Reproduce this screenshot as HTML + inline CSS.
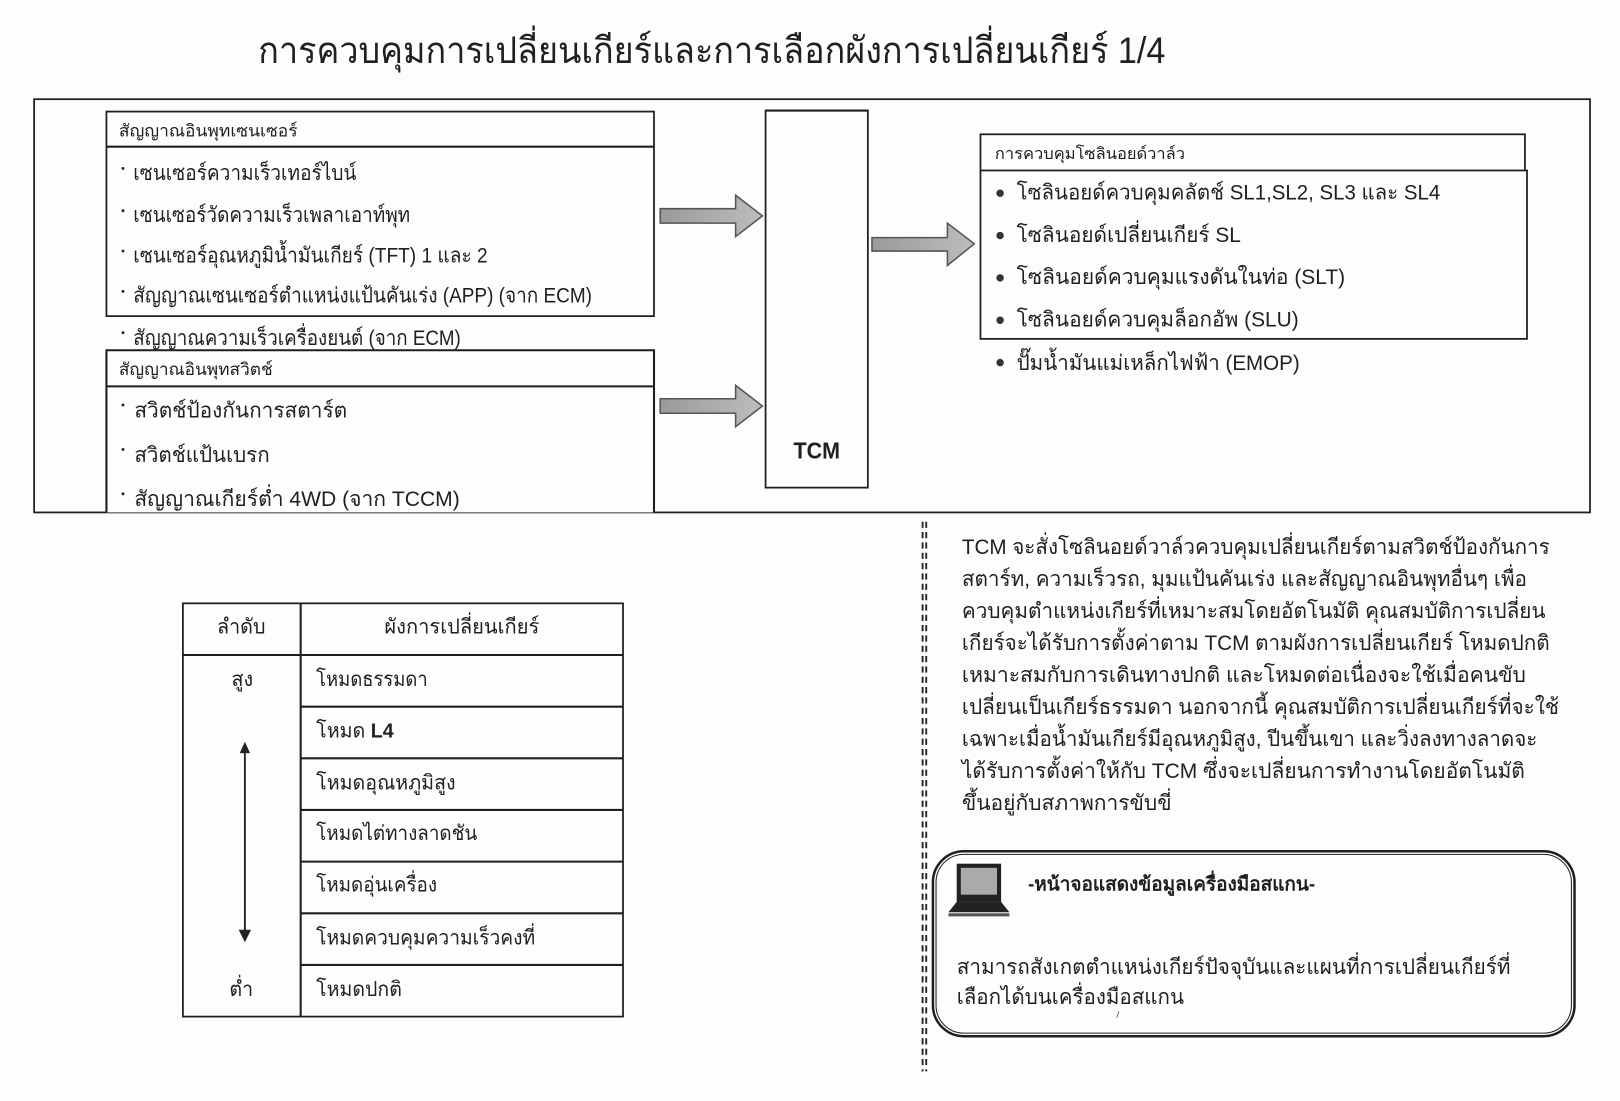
<!DOCTYPE html>
<html lang="th"><head><meta charset="utf-8"><title>การควบคุมการเปลี่ยนเกียร์</title>
<style>
html,body{margin:0;padding:0;background:#fdfdfc}
svg{display:block;width:1620px;height:1101px}
text{font-family:"Liberation Sans","Noto Sans CJK SC","WenQuanYi Zen Hei",sans-serif;fill:#202020}
.s{font-size:16.5px}.m{font-size:20.5px}.b{font-weight:bold}
.box{fill:#fdfdfc;stroke:#1e1e1e;stroke-width:1.7}
.ln{stroke:#1e1e1e;stroke-width:2;fill:none}
.ar{fill:url(#g);stroke:#555;stroke-width:1.5}
</style></head><body>
<svg viewBox="0 0 1568 1065.7" xmlns="http://www.w3.org/2000/svg">
<defs><linearGradient id="g" x1="0" y1="0" x2="1" y2="0"><stop offset="0" stop-color="#9a9a9a"/><stop offset="1" stop-color="#bdbdbd"/></linearGradient></defs>
<rect width="1568" height="1065.7" fill="#fdfdfc"/>
<text x="250" y="61" font-size="35.5" textLength="878" lengthAdjust="spacingAndGlyphs">การควบคุมการเปลี่ยนเกียร์และการเลือกผังการเปลี่ยนเกียร์ 1/4</text>

<rect x="33" y="96" width="1506" height="400" fill="#fdfdfc" stroke="#1e1e1e" stroke-width="1.7"/>

<!-- sensor input -->
<text class="m" x="129" y="334" textLength="317" lengthAdjust="spacingAndGlyphs">สัญญาณความเร็วเครื่องยนต์ (จาก ECM)</text>
<circle cx="119" cy="322" r="1.4" fill="#222"/>
<rect class="box" x="103" y="108" width="530" height="198"/>
<line class="ln" x1="103" y1="142" x2="633" y2="142"/>
<text class="s" x="115" y="132" textLength="173" lengthAdjust="spacingAndGlyphs">สัญญาณอินพุทเซนเซอร์</text>
<circle cx="119" cy="163" r="1.4" fill="#222"/><text class="m" x="129" y="174" textLength="216" lengthAdjust="spacingAndGlyphs">เซนเซอร์ความเร็วเทอร์ไบน์</text>
<circle cx="119" cy="204" r="1.4" fill="#222"/><text class="m" x="129" y="215" textLength="268" lengthAdjust="spacingAndGlyphs">เซนเซอร์วัดความเร็วเพลาเอาท์พุท</text>
<circle cx="119" cy="243" r="1.4" fill="#222"/><text class="m" x="129" y="254" textLength="343" lengthAdjust="spacingAndGlyphs">เซนเซอร์อุณหภูมิน้ำมันเกียร์ (TFT) 1 และ 2</text>
<circle cx="119" cy="282" r="1.4" fill="#222"/><text class="m" x="129" y="293" textLength="444" lengthAdjust="spacingAndGlyphs">สัญญาณเซนเซอร์ตำแหน่งแป้นคันเร่ง (APP) (จาก ECM)</text>

<!-- switch input -->
<rect x="103" y="339" width="530" height="157" fill="#fdfdfc"/>
<path class="ln" d="M103 496V339H633V496M103 374H633"/>
<text class="s" x="115" y="363" textLength="149" lengthAdjust="spacingAndGlyphs">สัญญาณอินพุทสวิตช์</text>
<circle cx="119" cy="392" r="1.4" fill="#222"/><text class="m" x="130" y="404" textLength="206" lengthAdjust="spacingAndGlyphs">สวิตช์ป้องกันการสตาร์ต</text>
<circle cx="119" cy="435" r="1.4" fill="#222"/><text class="m" x="130" y="447" textLength="131" lengthAdjust="spacingAndGlyphs">สวิตช์แป้นเบรก</text>
<circle cx="119" cy="478" r="1.4" fill="#222"/><text class="m" x="130" y="490" textLength="315" lengthAdjust="spacingAndGlyphs">สัญญาณเกียร์ต่ำ 4WD (จาก TCCM)</text>

<!-- arrows -->
<path class="ar" d="M639 202H712V189L738 209L712 229V216H639Z"/>
<path class="ar" d="M639 386H712V373L738 393L712 413V400H639Z"/>
<path class="ar" d="M844 230H917V216L943 236L917 257V243H844Z"/>

<!-- TCM -->
<rect class="box" x="741" y="107" width="99" height="365"/>
<line class="ln" x1="741" y1="107" x2="840" y2="107"/>
<text class="b" x="768" y="444" font-size="22" textLength="45" lengthAdjust="spacingAndGlyphs">TCM</text>

<!-- solenoid -->
<rect class="box" x="949" y="130" width="527" height="36"/>
<rect class="box" x="949" y="165" width="529" height="163"/>
<text x="963" y="154" font-size="15.5" textLength="184" lengthAdjust="spacingAndGlyphs">การควบคุมโซลินอยด์วาล์ว</text>
<circle cx="968" cy="187" r="3.6" fill="#333"/><text class="m" x="984" y="193" textLength="410" lengthAdjust="spacingAndGlyphs">โซลินอยด์ควบคุมคลัตช์ SL1,SL2, SL3 และ SL4</text>
<circle cx="968" cy="228" r="3.6" fill="#333"/><text class="m" x="984" y="234" textLength="217" lengthAdjust="spacingAndGlyphs">โซลินอยด์เปลี่ยนเกียร์ SL</text>
<circle cx="968" cy="269" r="3.6" fill="#333"/><text class="m" x="984" y="275" textLength="318" lengthAdjust="spacingAndGlyphs">โซลินอยด์ควบคุมแรงดันในท่อ (SLT)</text>
<circle cx="968" cy="310" r="3.6" fill="#333"/><text class="m" x="984" y="316" textLength="273" lengthAdjust="spacingAndGlyphs">โซลินอยด์ควบคุมล็อกอัพ (SLU)</text>
<circle cx="968" cy="351" r="3.6" fill="#333"/><text class="m" x="984" y="358" textLength="274" lengthAdjust="spacingAndGlyphs">ปั๊มน้ำมันแม่เหล็กไฟฟ้า (EMOP)</text>

<!-- table -->
<rect class="box" x="177" y="584" width="426" height="400" stroke-width="2"/>
<path class="ln" d="M291 584V984M177 634H603M291 684H603M291 734H603M291 784H603M291 834H603M291 884H603M291 934H603"/>
<g font-size="20">
<text x="210" y="613" textLength="47" lengthAdjust="spacingAndGlyphs">ลำดับ</text>
<text x="372" y="613" textLength="150" lengthAdjust="spacingAndGlyphs">ผังการเปลี่ยนเกียร์</text>
<text x="224" y="664" textLength="21" lengthAdjust="spacingAndGlyphs">สูง</text>
<text x="222" y="964" textLength="23" lengthAdjust="spacingAndGlyphs">ต่ำ</text>
<text x="306" y="664" textLength="108" lengthAdjust="spacingAndGlyphs">โหมดธรรมดา</text>
<text x="306" y="714" textLength="75" lengthAdjust="spacingAndGlyphs">โหมด <tspan font-weight="bold">L4</tspan></text>
<text x="306" y="764" textLength="135" lengthAdjust="spacingAndGlyphs">โหมดอุณหภูมิสูง</text>
<text x="306" y="813" textLength="156" lengthAdjust="spacingAndGlyphs">โหมดไต่ทางลาดชัน</text>
<text x="306" y="863" textLength="117" lengthAdjust="spacingAndGlyphs">โหมดอุ่นเครื่อง</text>
<text x="306" y="914" textLength="212" lengthAdjust="spacingAndGlyphs">โหมดควบคุมความเร็วคงที่</text>
<text x="306" y="964" textLength="83" lengthAdjust="spacingAndGlyphs">โหมดปกติ</text>
</g>
<line x1="237" y1="726" x2="237" y2="902" stroke="#222" stroke-width="1.8"/>
<path d="M237 718L232 729H242Z M237 912L231 900H243Z" fill="#222"/>

<!-- dashed divider -->
<path d="M893 505V1037M896.5 505V1037" stroke="#222" stroke-width="1.8" stroke-dasharray="6 4" fill="none"/>

<!-- paragraph -->
<g font-size="20.5">
<text x="931" y="536" textLength="569" lengthAdjust="spacingAndGlyphs">TCM จะสั่งโซลินอยด์วาล์วควบคุมเปลี่ยนเกียร์ตามสวิตช์ป้องกันการ</text>
<text x="931" y="567" textLength="547" lengthAdjust="spacingAndGlyphs">สตาร์ท, ความเร็วรถ, มุมแป้นคันเร่ง และสัญญาณอินพุทอื่นๆ เพื่อ</text>
<text x="931" y="598" textLength="565" lengthAdjust="spacingAndGlyphs">ควบคุมตำแหน่งเกียร์ที่เหมาะสมโดยอัตโนมัติ  คุณสมบัติการเปลี่ยน</text>
<text x="931" y="629" textLength="569" lengthAdjust="spacingAndGlyphs">เกียร์จะได้รับการตั้งค่าตาม TCM ตามผังการเปลี่ยนเกียร์ โหมดปกติ</text>
<text x="931" y="660" textLength="546" lengthAdjust="spacingAndGlyphs">เหมาะสมกับการเดินทางปกติ และโหมดต่อเนื่องจะใช้เมื่อคนขับ</text>
<text x="931" y="691" textLength="578" lengthAdjust="spacingAndGlyphs">เปลี่ยนเป็นเกียร์ธรรมดา นอกจากนี้ คุณสมบัติการเปลี่ยนเกียร์ที่จะใช้</text>
<text x="931" y="722" textLength="557" lengthAdjust="spacingAndGlyphs">เฉพาะเมื่อน้ำมันเกียร์มีอุณหภูมิสูง, ปีนขึ้นเขา และวิ่งลงทางลาดจะ</text>
<text x="931" y="753" textLength="545" lengthAdjust="spacingAndGlyphs">ได้รับการตั้งค่าให้กับ TCM  ซึ่งจะเปลี่ยนการทำงานโดยอัตโนมัติ</text>
<text x="931" y="784" textLength="203" lengthAdjust="spacingAndGlyphs">ขึ้นอยู่กับสภาพการขับขี่</text>
</g>

<!-- scan tool box -->
<rect x="903" y="824" width="621" height="179" rx="30" fill="none" stroke="#1e1e1e" stroke-width="2.4"/>
<rect x="906" y="827" width="615" height="173" rx="27" fill="#fdfdfc" stroke="#1e1e1e" stroke-width="1"/>
<!-- laptop icon -->
<rect x="926" y="836" width="43" height="37" fill="#222"/>
<rect x="930" y="840" width="35" height="26" fill="#aaa"/>
<path d="M926 873H969L977 883H918Z" fill="#222"/>
<rect x="918" y="884" width="59" height="3" fill="#555"/>
<text class="b" x="995" y="862" font-size="18.5" textLength="278" lengthAdjust="spacingAndGlyphs">-หน้าจอแสดงข้อมูลเครื่องมือสแกน-</text>
<text x="926" y="943" font-size="20.5" textLength="536" lengthAdjust="spacingAndGlyphs">สามารถสังเกตตำแหน่งเกียร์ปัจจุบันและแผนที่การเปลี่ยนเกียร์ที่</text>
<text x="926" y="972" font-size="20.5" textLength="220" lengthAdjust="spacingAndGlyphs">เลือกได้บนเครื่องมือสแกน</text>
<line x1="1081" y1="985" x2="1083" y2="979" stroke="#555" stroke-width="0.8"/>
</svg>
</body></html>
